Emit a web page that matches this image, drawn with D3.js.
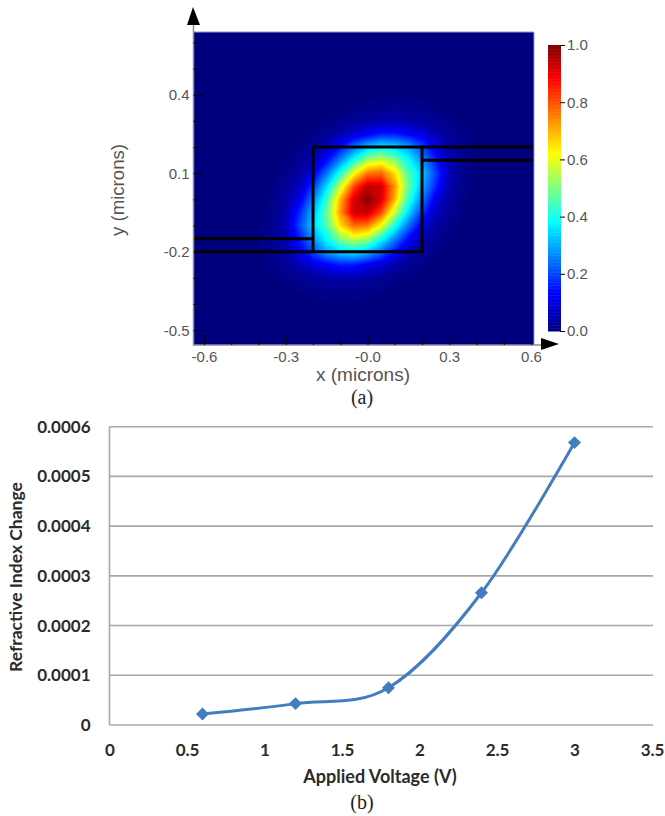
<!DOCTYPE html>
<html>
<head>
<meta charset="utf-8">
<script src="https://cdn.jsdelivr.net/npm/d3@7"></script>
<style>
  html, body { margin: 0; padding: 0; background: #fff; }
  svg { display: block; }
  .field text { font-family: "Liberation Sans", Arial, sans-serif; fill: #555; }
  .curve text { font-family: Lato, sans-serif; font-weight: 700; fill: #2b2b2b; }
  .caption { font-family: "Liberation Serif", serif; font-size: 20px; fill: #222; }
</style>
</head>
<body>
<div id="chart"></div>
<script>
// Panel (a): mode intensity, one row per y, one column per x
const fieldX = [-0.4, -0.35, -0.3, -0.25, -0.2, -0.15, -0.1, -0.05, 0, 0.05, 0.1, 0.15, 0.2, 0.25, 0.3, 0.35, 0.4];
const fieldY = [0.4, 0.35, 0.3, 0.25, 0.2, 0.15, 0.1, 0.05, 0, -0.05, -0.1, -0.15, -0.2, -0.25, -0.3, -0.35, -0.4];
const fieldRows = [
  [0, 0, 0, .001, .001, .002, .003, .005, .006, .008, .008, .008, .006, .005, .003, .002, .001],
  [0, 0, .001, .001, .002, .004, .006, .01, .014, .018, .02, .018, .014, .01, .006, .004, .002],
  [0, .001, .002, .003, .005, .009, .016, .03, .04, .05, .05, .045, .035, .025, .012, .006, .004],
  [.001, .002, .003, .006, .012, .025, .05, .09, .12, .16, .16, .13, .10, .06, .03, .012, .006],
  [.001, .003, .006, .012, .03, .07, .15, .25, .33, .37, .35, .30, .21, .11, .05, .018, .007],
  [.002, .004, .008, .025, .06, .14, .27, .40, .54, .58, .51, .39, .28, .16, .06, .025, .008],
  [.003, .006, .014, .04, .11, .25, .41, .62, .76, .78, .66, .46, .34, .20, .06, .02, .007],
  [.004, .008, .03, .07, .19, .35, .57, .81, .94, .93, .73, .48, .31, .17, .05, .015, .006],
  [.005, .012, .04, .11, .26, .43, .70, .92, 1.0, .92, .70, .43, .26, .11, .04, .012, .005],
  [.006, .015, .05, .17, .31, .48, .73, .93, .94, .81, .57, .35, .19, .07, .03, .008, .004],
  [.007, .02, .06, .20, .34, .46, .66, .78, .76, .62, .41, .25, .11, .04, .014, .006, .003],
  [.008, .025, .06, .16, .28, .39, .51, .58, .54, .40, .27, .14, .06, .025, .008, .004, .002],
  [.007, .018, .05, .11, .21, .30, .35, .37, .33, .25, .15, .07, .03, .012, .006, .003, .001],
  [.006, .012, .03, .06, .10, .13, .16, .16, .12, .09, .05, .025, .012, .006, .003, .002, .001],
  [.004, .006, .012, .025, .035, .045, .05, .05, .04, .03, .016, .009, .005, .003, .002, .001, 0],
  [.002, .004, .006, .01, .014, .018, .02, .018, .014, .01, .006, .004, .002, .001, .001, 0, 0],
  [.001, .002, .003, .005, .006, .008, .008, .008, .006, .005, .003, .002, .001, .001, 0, 0, 0]
];

// Waveguide outline in microns
const coreOutline = [[-0.2, 0.2], [0.2, 0.2], [0.2, -0.2], [-0.2, -0.2], [-0.2, 0.2]];
const slabLines = [
  [[-0.64, -0.15], [-0.2, -0.15]],
  [[-0.64, -0.2], [-0.2, -0.2]],
  [[0.2, 0.2], [0.612, 0.2]],
  [[0.2, 0.15], [0.612, 0.15]]
];

const fieldXTicks = [-0.6, -0.3, 0, 0.3, 0.6];
const fieldXLabels = ['-0.6', '-0.3', '-0.0', '0.3', '0.6'];
const fieldXMinor = [-0.5, -0.4, -0.2, -0.1, 0.1, 0.2, 0.4, 0.5];
const fieldYTicks = [-0.5, -0.2, 0.1, 0.4];
const fieldYLabels = ['-0.5', '-0.2', '0.1', '0.4'];
const fieldYMinor = [-0.4, -0.3, -0.1, 0, 0.2, 0.3, 0.5, 0.6];
const colorTicks = [0, 0.2, 0.4, 0.6, 0.8, 1];

// Jet colour stops as in the colour bar
const jetStops = [0, 0.13, 0.38, 0.5, 0.62, 0.88, 1];
const jetColors = ['#00007f', '#0000ff', '#00ffff', '#80ff80', '#ffff00', '#ff0000', '#7f0000'];

// Panel (b): refractive index change against voltage
const voltages = [0.6, 1.2, 1.8, 2.4, 3.0];
const indexChange = [0.000022, 0.000043, 0.000075, 0.000266, 0.000568];
const voltageTicks = [0, 0.5, 1, 1.5, 2, 2.5, 3, 3.5];
const indexTicks = [0, 0.0001, 0.0002, 0.0003, 0.0004, 0.0005, 0.0006];

const width = 665, height = 816;
const svg = d3.select('#chart').append('svg')
  .attr('width', width)
  .attr('height', height);

// ---- panel (a) ----
const a = svg.append('g').attr('class', 'field');
const x = d3.scaleLinear().domain([-0.6, 0.6]).range([204, 531]);
const y = d3.scaleLinear().domain([-0.5, 0.6]).range([330.2, 42.4]);
const plot = { left: 193.5, right: 534, top: 32, bottom: 345 };
const jet = d3.scaleLinear().domain(jetStops).range(jetColors);

svg.append('defs').append('clipPath').attr('id', 'plot-clip')
  .append('rect')
  .attr('x', plot.left).attr('y', plot.top)
  .attr('width', plot.right - plot.left).attr('height', plot.bottom - plot.top);

const heat = a.append('g').attr('clip-path', 'url(#plot-clip)');
heat.append('rect')
  .attr('x', plot.left).attr('y', plot.top)
  .attr('width', plot.right - plot.left).attr('height', plot.bottom - plot.top)
  .attr('fill', jet(0));

// contour grid coordinates back to microns, then through the scales
const colToX = d3.scaleLinear().domain([0.5, fieldX.length - 0.5]).range([fieldX[0], fieldX[fieldX.length - 1]]);
const rowToY = d3.scaleLinear().domain([0.5, fieldY.length - 0.5]).range([fieldY[0], fieldY[fieldY.length - 1]]);
const toPlot = d3.geoTransform({
  point(cx, cy) { this.stream.point(x(colToX(cx)), y(rowToY(cy))); }
});
const contours = d3.contours()
  .size([fieldX.length, fieldY.length])
  .smooth(true)
  .thresholds(d3.range(0.01, 1, 0.01))(fieldRows.flat());

heat.selectAll('path.band')
  .data(contours)
  .join('path')
  .attr('class', 'band')
  .attr('d', d3.geoPath(toPlot))
  .attr('fill', d => jet(d.value));

const wall = d3.line().x(d => x(d[0])).y(d => y(d[1]));
heat.selectAll('path.wall')
  .data([coreOutline].concat(slabLines))
  .join('path')
  .attr('class', 'wall')
  .attr('d', wall)
  .attr('fill', 'none')
  .attr('stroke', '#000')
  .attr('stroke-width', 3);

// frame: grey axes, thin blue-grey top and right
a.append('path')
  .attr('d', `M${plot.left},${plot.top}H${plot.right}V${plot.bottom}`)
  .attr('fill', 'none').attr('stroke', '#8f9cc8').attr('stroke-width', 1);
a.append('path')
  .attr('d', `M${plot.left},25V${plot.bottom}H541`)
  .attr('fill', 'none').attr('stroke', '#8c8c96').attr('stroke-width', 1.5);

// axis arrows
a.append('path').attr('d', `M193,7L200,25H187Z`).attr('fill', '#000');
a.append('path').attr('d', `M559,344L541,338V350Z`).attr('fill', '#000');

// ticks point into the plot
const xAxisMajor = d3.axisBottom(x).tickValues(fieldXTicks).tickSize(-10).tickPadding(6)
  .tickFormat((d, i) => fieldXLabels[i]);
const xAxisMinor = d3.axisBottom(x).tickValues(fieldXMinor).tickSize(-5).tickFormat('');
const yAxisMajor = d3.axisLeft(y).tickValues(fieldYTicks).tickSize(-10).tickPadding(4)
  .tickFormat((d, i) => fieldYLabels[i]);
const yAxisMinor = d3.axisLeft(y).tickValues(fieldYMinor).tickSize(-5).tickFormat('');

[[xAxisMajor, plot.bottom], [xAxisMinor, plot.bottom]].forEach(([axis, pos]) => {
  a.append('g').attr('transform', `translate(0,${pos})`).call(axis)
    .call(g => g.select('.domain').remove())
    .call(g => g.selectAll('text').style('font-size', '15px').attr('font-family', null));
});
[yAxisMajor, yAxisMinor].forEach(axis => {
  a.append('g').attr('transform', `translate(${plot.left},0)`).call(axis)
    .call(g => g.select('.domain').remove())
    .call(g => g.selectAll('text').style('font-size', '15px').attr('font-family', null));
});

a.append('text')
  .attr('x', 363).attr('y', 381)
  .attr('text-anchor', 'middle')
  .style('font-size', '19px')
  .text('x (microns)');
a.append('text')
  .attr('transform', 'translate(124,190) rotate(-90)')
  .attr('text-anchor', 'middle')
  .style('font-size', '18.6px')
  .text('y (microns)');
svg.append('text')
  .attr('class', 'caption')
  .attr('x', 362).attr('y', 404)
  .attr('text-anchor', 'middle')
  .text('(a)');

// colour bar
const barY = d3.scaleLinear().domain([0, 1]).range([331, 45]);
a.append('g').selectAll('rect')
  .data(d3.range(0, 1, 0.005))
  .join('rect')
  .attr('x', 548).attr('width', 13)
  .attr('y', d => barY(d + 0.005))
  .attr('height', d => barY(d) - barY(d + 0.005) + 0.5)
  .attr('fill', d => jet(d));

const barAxis = d3.axisRight(barY).tickValues(colorTicks).tickSize(5).tickPadding(2)
  .tickFormat(d3.format('.1f'));
a.append('g').attr('transform', 'translate(560,0)').call(barAxis)
  .call(g => g.select('.domain').remove())
  .call(g => g.selectAll('text').style('font-size', '15px').attr('font-family', null));

// ---- panel (b) ----
const b = svg.append('g').attr('class', 'curve');
const vx = d3.scaleLinear().domain([0, 3.5]).range([109.5, 652]);
const vy = d3.scaleLinear().domain([0, 0.0006]).range([725, 426.7]);

b.append('g').selectAll('line')
  .data(indexTicks)
  .join('line')
  .attr('x1', vx(0)).attr('x2', 653)
  .attr('y1', d => vy(d)).attr('y2', d => vy(d))
  .attr('stroke', '#a8a8a8').attr('stroke-width', 1.6);
b.append('line')
  .attr('x1', vx(0)).attr('x2', vx(0))
  .attr('y1', vy(0.0006)).attr('y2', vy(0))
  .attr('stroke', '#a8a8a8').attr('stroke-width', 1.6);

const yAxisB = d3.axisLeft(vy).tickValues(indexTicks).tickSize(0).tickPadding(19)
  .tickFormat(d => d === 0 ? '0' : d3.format('.4f')(d));
b.append('g').attr('transform', `translate(${vx(0)},0)`).call(yAxisB)
  .call(g => g.select('.domain').remove())
  .call(g => g.selectAll('text').style('font-size', '17px').attr('font-family', null));

const xAxisB = d3.axisBottom(vx).tickValues(voltageTicks).tickSize(0).tickPadding(19)
  .tickFormat(d => String(d));
b.append('g').attr('transform', `translate(0,${vy(0)})`).call(xAxisB)
  .call(g => g.select('.domain').remove())
  .call(g => g.selectAll('text').style('font-size', '17px').attr('font-family', null));

const pts = voltages.map((v, i) => [v, indexChange[i]]);
const curve = d3.line()
  .x(d => vx(d[0]))
  .y(d => vy(d[1]))
  .curve(d3.curveCatmullRom.alpha(0));
b.append('path')
  .attr('d', curve(pts))
  .attr('fill', 'none')
  .attr('stroke', '#427ebd')
  .attr('stroke-width', 3);

// Excel style diamond: a square turned 45 degrees
b.selectAll('path.marker')
  .data(pts)
  .join('path')
  .attr('class', 'marker')
  .attr('d', d3.symbol(d3.symbolSquare, 84))
  .attr('transform', d => `translate(${vx(d[0])},${vy(d[1])}) rotate(45)`)
  .attr('fill', '#427ebd');

b.append('text')
  .attr('x', 380).attr('y', 783)
  .attr('text-anchor', 'middle')
  .style('font-size', '18px')
  .text('Applied Voltage (V)');
b.append('text')
  .attr('transform', 'translate(22,577) rotate(-90)')
  .attr('text-anchor', 'middle')
  .style('font-size', '17.5px')
  .text('Refractive Index Change');
svg.append('text')
  .attr('class', 'caption')
  .attr('x', 362).attr('y', 809)
  .attr('text-anchor', 'middle')
  .text('(b)');
</script>
</body>
</html>
